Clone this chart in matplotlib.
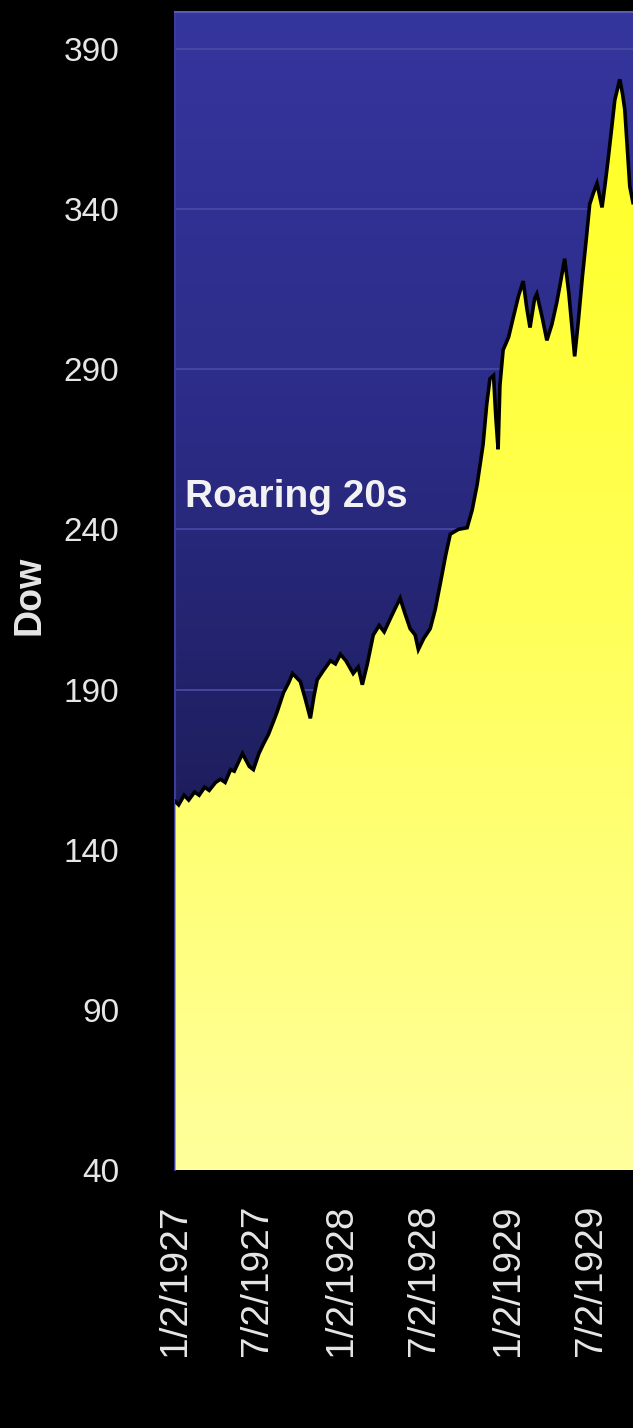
import numpy as np
import pandas as pd
import matplotlib
matplotlib.use('Agg')
import matplotlib.pyplot as plt
import matplotlib.dates as mdates
from matplotlib.colors import LinearSegmentedColormap

#%% dados (Dow, 1927 - 1929)
datas = ['1927-01-03', '1927-01-10', '1927-01-22', '1927-02-01', '1927-02-14',
         '1927-02-24', '1927-03-08', '1927-03-18', '1927-04-01', '1927-04-12',
         '1927-04-22', '1927-05-04', '1927-05-12', '1927-05-30', '1927-06-14',
         '1927-06-23', '1927-07-05', '1927-07-15', '1927-07-26', '1927-08-06',
         '1927-08-14', '1927-08-28', '1927-09-08', '1927-09-17', '1927-10-04',
         '1927-10-15', '1927-10-26', '1927-11-03', '1927-11-10', '1927-11-24',
         '1927-12-09', '1927-12-20', '1927-12-31', '1928-01-12', '1928-01-28',
         '1928-02-08', '1928-02-17', '1928-02-28', '1928-03-12', '1928-03-25',
         '1928-04-05', '1928-04-18', '1928-04-28', '1928-05-10', '1928-05-20',
         '1928-06-01', '1928-06-12', '1928-06-19', '1928-07-01', '1928-07-15',
         '1928-07-26', '1928-08-06', '1928-08-18', '1928-08-28', '1928-09-15',
         '1928-10-04', '1928-10-15', '1928-10-26', '1928-11-08', '1928-11-16',
         '1928-11-23', '1928-12-01', '1928-12-06', '1928-12-11', '1928-12-15',
         '1928-12-22', '1929-01-03', '1929-01-13', '1929-01-25', '1929-02-04',
         '1929-02-12', '1929-02-19', '1929-03-01', '1929-03-06', '1929-03-18',
         '1929-03-28', '1929-04-08', '1929-04-19', '1929-04-28', '1929-05-06',
         '1929-05-15', '1929-05-28', '1929-06-05', '1929-06-14', '1929-06-22',
         '1929-06-30', '1929-07-08', '1929-07-16', '1929-07-27', '1929-08-03',
         '1929-08-09', '1929-08-17', '1929-08-24', '1929-09-04', '1929-09-10',
         '1929-09-15', '1929-09-21', '1929-09-26', '1929-10-03']
dow = [155, 154, 157, 155.5, 158,
       157, 159.5, 158.5, 161, 162,
       161, 165, 164.5, 170, 166,
       165, 170, 173, 176, 180,
       183, 189, 192, 195, 192.5,
       187, 181, 188, 193, 196,
       199, 198, 201, 199, 195,
       197, 191.5, 198, 207, 210,
       208, 212, 215, 218.5, 214,
       209, 207, 202.5, 206, 209,
       215, 223, 232, 238.5, 240,
       240.5, 246, 254, 266.5, 279,
       287, 288, 275, 265, 285,
       296, 300, 306, 313, 317.5,
       309, 303, 312, 313.5, 306,
       299, 304, 311, 318, 324.5,
       314, 294, 305, 319, 330,
       341.5, 345, 348, 340.5, 348,
       355, 365, 374, 380.5, 376,
       371, 358, 347, 342]

ticks_y = [40, 90, 140, 190, 240, 290, 340, 390]
ticks_x = ['1927-01-02', '1927-07-02', '1928-01-02', '1928-07-02',
           '1929-01-02', '1929-07-02']
labels_x = ['1/2/1927', '7/2/1927', '1/2/1928', '7/2/1928',
            '1/2/1929', '7/2/1929']

#%% figura
x = mdates.date2num(pd.to_datetime(datas))
y = np.array(dow)
xmin = mdates.date2num(pd.Timestamp('1927-01-02'))
xmax = mdates.date2num(pd.Timestamp('1929-10-03'))
ymin, ymax = 40, 401.5

fig = plt.figure(figsize=(6.33, 14.28), dpi=100, facecolor='black')
ax = fig.add_axes([175/633, 1 - 1170/1428, 458/633, 1158/1428])
ax.set_facecolor('#2a2a80')

# fundo azul em degrade (claro em cima, escuro embaixo)
cmap_azul = LinearSegmentedColormap.from_list('azul', ['#35359e', '#2c2c88', '#1d1d5c'])
grad = np.linspace(0, 1, 256).reshape(-1, 1)
ax.imshow(grad, aspect='auto', cmap=cmap_azul, extent=[xmin, xmax, 150, ymax],
          origin='upper', zorder=0)

# grid
for t in ticks_y:
    ax.axhline(t, color='#4848a4', lw=1.3, zorder=1)

# area amarela em degrade (forte em cima, palida embaixo)
xf = np.concatenate([[x[0]], x, [x[-1]]])
yf = np.concatenate([[ymin], y, [ymin]])
poly = ax.fill(xf, yf, facecolor='none', edgecolor='none', zorder=2)[0]
cmap_amarelo = LinearSegmentedColormap.from_list('amarelo', ['#ffff20', '#ffff58', '#ffff9c'])
img = ax.imshow(grad, aspect='auto', cmap=cmap_amarelo, extent=[xmin, xmax, ymin, 390],
                origin='upper', zorder=3)
img.set_clip_path(poly)
ax.plot(x, y, color='black', lw=2.6, zorder=4, solid_joinstyle='miter')

ax.set_xlim(xmin, xmax)
ax.set_ylim(ymin, ymax)

ax.set_yticks(ticks_y)
ax.set_yticklabels([str(t) for t in ticks_y], fontsize=24, color='#e6e6e6',
                   family='Liberation Sans')
ax.set_xticks(mdates.date2num(pd.to_datetime(ticks_x)))
ax.set_xticklabels(labels_x, rotation=90, fontsize=28, color='#e6e6e6',
                   family='Liberation Sans')
ax.tick_params(axis='y', length=0, pad=40)
ax.tick_params(axis='x', length=0, pad=25)

for lado in ['right', 'bottom']:
    ax.spines[lado].set_visible(False)
ax.spines['top'].set_color('#5a5ab4')
ax.spines['top'].set_linewidth(1.5)
ax.spines['left'].set_color('#3c3c9c')
ax.spines['left'].set_linewidth(1.5)

ax.text(0.022, 0.581, 'Roaring 20s', transform=ax.transAxes, ha='left', va='center',
        fontsize=28, fontweight='bold', color='#f2f2f2',
        family='Liberation Sans', zorder=5)

fig.text(30/633, 1 - 595/1428, 'Dow', rotation=90, ha='center', va='center',
         fontsize=27, fontweight='bold', color='#e6e6e6', family='Liberation Sans')

plt.savefig('out.png', dpi=100, facecolor='black')
